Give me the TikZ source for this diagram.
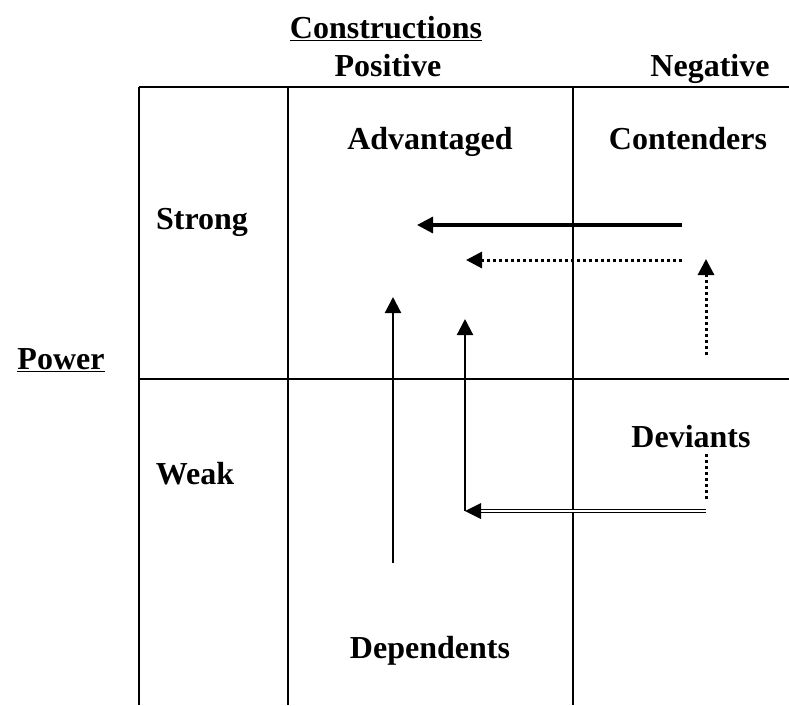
\documentclass[tikz,border=0pt]{standalone}
\usepackage{fontspec}
\setmainfont{Liberation Serif}
\usetikzlibrary{arrows.meta}
\begin{document}
\begin{tikzpicture}[x=1pt,y=-1pt,
  lbl/.style={font=\fontsize{32}{36}\selectfont\bfseries, inner sep=0pt, anchor=base},
  grid/.style={line width=2.8pt},
  tip/.style={-{Triangle[length=16pt,width=16pt]}},
  solidarrow/.style={tip, line width=2.2pt},
  thickarrow/.style={tip, line width=3.2pt},
  dotarrow/.style={tip, line width=3pt, dash pattern=on 3pt off 3pt},
  dotline/.style={line width=3pt, dash pattern=on 3pt off 3pt},
  dblline/.style={double, double distance=1.4pt, line width=1pt}]
\useasboundingbox (0,0) rectangle (789,705);
% grid
\draw[grid] (139,87) -- (789,87);
\draw[grid] (139,379) -- (789,379);
\draw[grid] (139,87) -- (139,705);
\draw[grid] (288,87) -- (288,705);
\draw[grid] (573,87) -- (573,705);
% labels
\node[lbl] (cons) at (386,38) {\underline{Constructions}};
\node[lbl] (pos) at (388,76) {Positive};
\node[lbl] (neg) at (710,76) {Negative};
\node[lbl] (adv) at (430,149) {Advantaged};
\node[lbl] (cont) at (688,149) {Contenders};
\node[lbl] (strong) at (202,229) {Strong};
\node[lbl] (power) at (61,369) {\underline{Power}};
\node[lbl] (weak) at (195,484) {Weak};
\node[lbl] (dev) at (691,447) {Deviants};
\node[lbl] (dep) at (430,658) {Dependents};
% connector coordinates
\coordinate (a1s) at (682,225);
\coordinate (a1e) at (417,225);
\coordinate (a2s) at (682,260);
\coordinate (a2e) at (466,260);
\coordinate (a3s) at (706,355);
\coordinate (a3e) at (706,259);
\coordinate (a4s) at (393,563);
\coordinate (a4e) at (393,297);
\coordinate (a5s) at (706,454);
\coordinate (a5e) at (706,501);
\coordinate (a6s) at (706,511);
\coordinate (a6c) at (465,511);
\coordinate (a6e) at (465,319);
\coordinate (a6t) at (480,511);
% arrows
\draw[thickarrow] (a1s) -- (a1e);
\draw[dotarrow] (a2s) -- (a2e);
\draw[dotarrow] (a3s) -- (a3e);
\draw[solidarrow] (a4s) -- (a4e);
\draw[dotline] (a5s) -- (a5e);
\draw[dblline] (a6s) -- (a6t);
\fill (a6c) -- ++(16,-8) -- ++(0,16) -- cycle;
\draw[solidarrow] (a6c) -- (a6e);
\end{tikzpicture}
\end{document}
